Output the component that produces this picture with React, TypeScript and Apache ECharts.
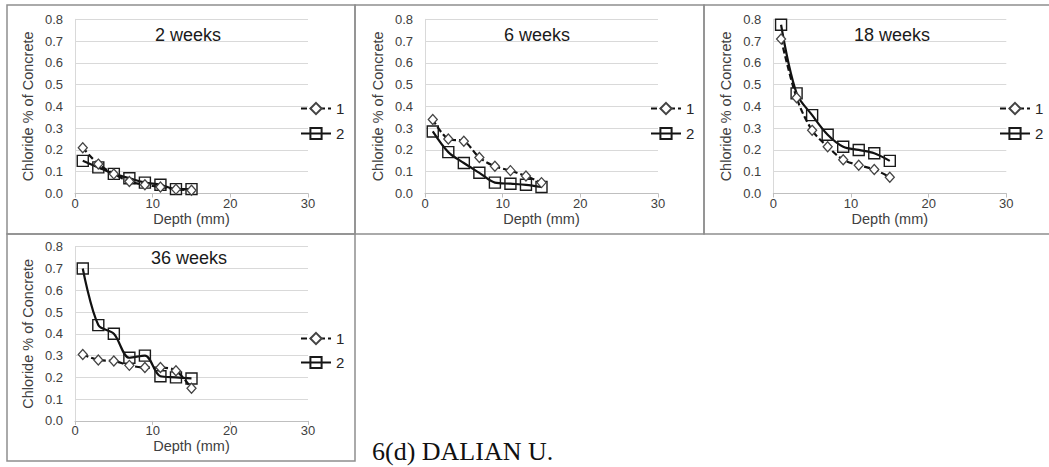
import React, { useEffect, useRef } from "react";
import * as echarts from "echarts";

const depths = [1, 3, 5, 7, 9, 11, 13, 15];
const panelTitles = ["2 weeks", "6 weeks", "18 weeks", "36 weeks"];
const seriesNames = ["1", "2"];
const xTicks = [0, 10, 20, 30];
const yTicks = [0, 0.1, 0.2, 0.3, 0.4, 0.5, 0.6, 0.7, 0.8];

const week2S1 = [0.21, 0.135, 0.09, 0.055, 0.04, 0.03, 0.02, 0.015];
const week2S2 = [0.15, 0.12, 0.09, 0.07, 0.05, 0.04, 0.02, 0.02];
const week6S1 = [0.34, 0.25, 0.24, 0.165, 0.125, 0.105, 0.08, 0.05];
const week6S2 = [0.285, 0.19, 0.14, 0.095, 0.05, 0.045, 0.04, 0.03];
const week18S1 = [0.71, 0.44, 0.29, 0.215, 0.155, 0.13, 0.11, 0.075];
const week18S2 = [0.775, 0.46, 0.36, 0.27, 0.215, 0.2, 0.185, 0.15];
const week36S1 = [0.305, 0.28, 0.275, 0.255, 0.245, 0.245, 0.23, 0.15];
const week36S2 = [0.7, 0.44, 0.4, 0.29, 0.3, 0.205, 0.2, 0.195];

const panelData = [
  [week2S1, week2S2],
  [week6S1, week6S2],
  [week18S1, week18S2],
  [week36S1, week36S2],
];

const FONT = "Liberation Sans";

// layout of each panel (page pixels)
const layouts = [
  { gl: 75, gt: 19.3, box: [7, 5, 348, 229], title: [188, 26], legend: [300, 101, 10] },
  { gl: 425, gt: 19.3, box: [355, 5, 349, 229], title: [537, 26], legend: [650, 101, 10] },
  { gl: 773.3, gt: 19.3, box: [704, 5, 360, 229], title: [892, 26], legend: [999, 101, 10] },
  { gl: 75, gt: 246.7, box: [7, 234, 348, 227], title: [189, 249], legend: [300, 331, 9] },
];

export default function App() {
  const ref = useRef<HTMLDivElement>(null);
  useEffect(() => {
    document.body.style.margin = "0";
    const chart = echarts.init(ref.current!, null, { renderer: "svg" });
    const grid: any[] = [];
    const xAxis: any[] = [];
    const yAxis: any[] = [];
    const series: any[] = [];
    const title: any[] = [];
    const legend: any[] = [];
    const graphic: any[] = [];

    layouts.forEach((L, i) => {
      grid.push({ left: L.gl, top: L.gt, width: 233, height: 174.2 });
      xAxis.push({
        type: "value",
        gridIndex: i,
        min: xTicks[0],
        max: xTicks[xTicks.length - 1],
        interval: 10,
        name: "Depth (mm)",
        nameLocation: "middle",
        nameGap: 18,
        nameTextStyle: { fontFamily: FONT, fontSize: 14.5, color: "#404040" },
        axisLine: { show: true, lineStyle: { color: "#bfbfbf", width: 1 } },
        axisTick: { show: true, length: 4, lineStyle: { color: "#bfbfbf" } },
        axisLabel: { fontFamily: FONT, fontSize: 13, color: "#404040", margin: 3 },
        splitLine: { show: false },
      });
      yAxis.push({
        type: "value",
        gridIndex: i,
        min: yTicks[0],
        max: yTicks[yTicks.length - 1],
        interval: 0.1,
        name: "Chloride % of Concrete",
        nameLocation: "middle",
        nameGap: 40,
        nameTextStyle: { fontFamily: FONT, fontSize: 14.5, color: "#404040" },
        axisLine: { show: true, lineStyle: { color: "#d9d9d9", width: 1 } },
        axisTick: { show: false },
        axisLabel: {
          fontFamily: FONT,
          fontSize: 13,
          color: "#404040",
          margin: 12,
          formatter: (v: number) => v.toFixed(1),
        },
        splitLine: { show: true, lineStyle: { color: "#d9d9d9", width: 1 } },
      });
      title.push({
        text: panelTitles[i],
        left: L.title[0],
        top: L.title[1],
        textAlign: "center",
        padding: 0,
        textStyle: { fontFamily: FONT, fontSize: 18, fontWeight: "normal", color: "#1a1a1a" },
      });
      legend.push({
        data: seriesNames,
        orient: "vertical",
        left: L.legend[0],
        top: L.legend[1],
        itemGap: L.legend[2],
        itemWidth: 30,
        itemHeight: 14,
        padding: 0,
        selectedMode: false,
        textStyle: { fontFamily: FONT, fontSize: 15, color: "#262626" },
      });
      const [s1, s2] = panelData[i];
      series.push({
        type: "line",
        name: seriesNames[0],
        xAxisIndex: i,
        yAxisIndex: i,
        data: depths.map((d, k) => [d, s1[k]]),
        smooth: 0.33,
        symbol: "diamond",
        symbolSize: [9, 10],
        lineStyle: { color: "#111", width: 2.2, type: [6, 3] },
        itemStyle: { color: "#fff", borderColor: "#444", borderWidth: 1.3 },
        z: 3,
      });
      series.push({
        type: "line",
        name: seriesNames[1],
        xAxisIndex: i,
        yAxisIndex: i,
        data: depths.map((d, k) => [d, s2[k]]),
        smooth: 0.33,
        symbol: "rect",
        symbolSize: 11,
        lineStyle: { color: "#111", width: 2.2, type: "solid" },
        itemStyle: { color: "rgba(255,255,255,0)", borderColor: "#1a1a1a", borderWidth: 1.4 },
        z: 2,
      });
      graphic.push({
        type: "rect",
        shape: { x: L.box[0], y: L.box[1], width: L.box[2], height: L.box[3] },
        style: { fill: "none", stroke: "#8f8f8f", lineWidth: 1.5 },
        silent: true,
        z: 100,
      });
    });

    graphic.push({
      type: "text",
      x: 372,
      y: 451,
      style: {
        text: "6(d) DALIAN U.",
        fontFamily: "Liberation Serif",
        fontSize: 26,
        fill: "#111",
        verticalAlign: "middle",
        align: "left",
      },
    });

    chart.setOption({
      animation: false,
      backgroundColor: "#fff",
      grid,
      xAxis,
      yAxis,
      title,
      legend,
      series,
      graphic,
    });
    return () => chart.dispose();
  }, []);
  return <div ref={ref} style={{ width: 1049, height: 467 }} />;
}
